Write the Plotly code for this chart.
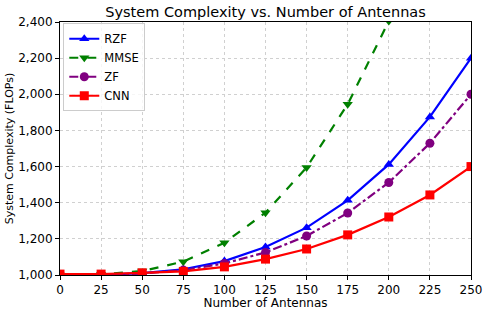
import plotly.graph_objects as go

antennas = [0, 25, 50, 75, 100, 125, 150, 175, 200, 225, 250]
rzf = [1000, 1001, 1010, 1032, 1077, 1155, 1262, 1413, 1612, 1875, 2200]
mmse = [1000, 1003, 1022, 1074, 1178, 1345, 1595, 1945, 2405, 2990, 3730]
zf = [1000, 1001, 1008, 1027, 1064, 1125, 1216, 1343, 1512, 1729, 2000]
cnn = [1005, 1005, 1012, 1020, 1045, 1088, 1144, 1222, 1321, 1443, 1600]

y_ticks = [1000, 1200, 1400, 1600, 1800, 2000, 2200, 2400]
x_ticks = [0, 25, 50, 75, 100, 125, 150, 175, 200, 225, 250]

series = [
    ("RZF", rzf, "#0000ff", "solid", "triangle-up"),
    ("MMSE", mmse, "#008000", "dash", "triangle-down"),
    ("ZF", zf, "#800080", "dashdot", "circle"),
    ("CNN", cnn, "#ff0000", "solid", "square"),
]

fig = go.Figure()
for name, vals, color, dash, sym in series:
    fig.add_trace(go.Scatter(
        x=antennas, y=vals, name=name, mode="lines+markers",
        line=dict(color=color, width=2.2, dash=dash),
        marker=dict(symbol=sym, size=9, color=color),
        cliponaxis=True,
    ))

axis_common = dict(
    showgrid=True, gridcolor="#d0d0d0", griddash="dot", gridwidth=1,
    showline=True, linecolor="black", linewidth=1, mirror=True,
    ticks="outside", ticklen=4, tickcolor="black",
    tickfont=dict(family="DejaVu Sans", size=12, color="black"),
    zeroline=False, automargin=False,
)

fig.update_layout(
    width=484, height=310,
    margin=dict(l=60, r=13, t=22, b=35),
    paper_bgcolor="white", plot_bgcolor="white",
    title=dict(text="System Complexity vs. Number of Antennas",
               xref="container", x=0.5486, xanchor="center",
               yref="container", y=1 - 12 / 310, yanchor="middle",
               font=dict(family="DejaVu Sans", size=14.5, color="black")),
    font=dict(family="DejaVu Sans", color="black"),
    xaxis=dict(range=[0, 250], tickvals=x_ticks,
               title=dict(text="Number of Antennas", font=dict(size=12), standoff=1),
               **axis_common),
    yaxis=dict(range=[1000, 2400], tickvals=y_ticks, tickformat=",",
               title=dict(text="System Complexity (FLOPs)", font=dict(size=11), standoff=2),
               **axis_common),
    legend=dict(x=0.008, y=0.995, xanchor="left", yanchor="top",
                bgcolor="rgba(255,255,255,0.8)", bordercolor="#cccccc", borderwidth=1,
                font=dict(family="DejaVu Sans", size=11.5), itemwidth=30,
                tracegroupgap=0),
    showlegend=True,
)

fig.write_html("out.html", post_script="document.body.style.margin='0';",
               config={"displayModeBar": False})
